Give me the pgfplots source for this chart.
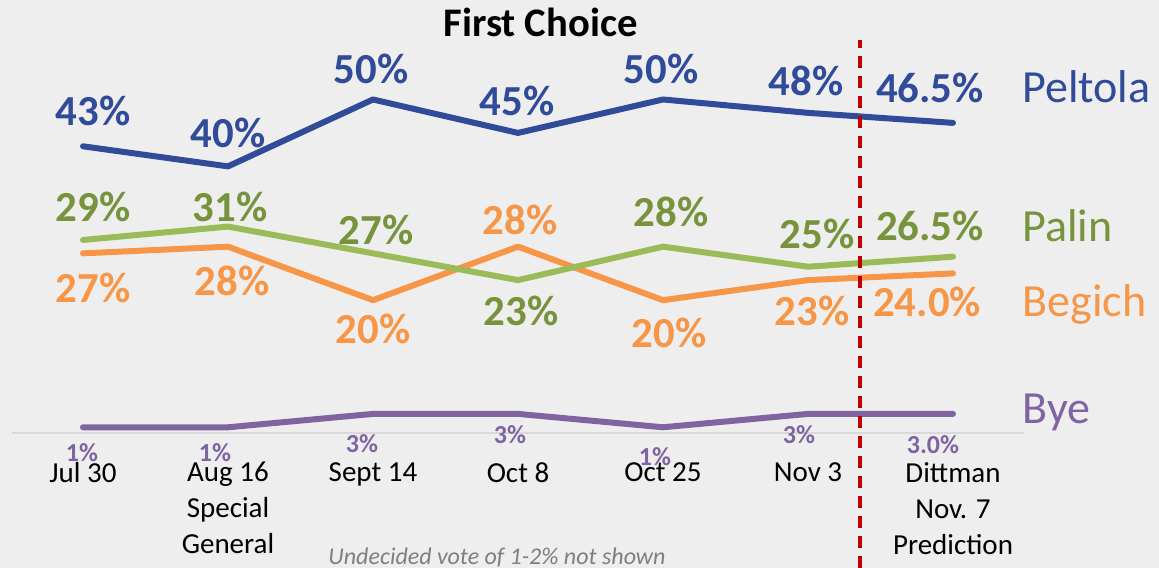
\documentclass[border=0pt]{standalone}
\usepackage{fontspec}
\setmainfont{Carlito}
\usepackage{pgfplots}
\pgfplotsset{compat=1.18}
\definecolor{bg}{HTML}{EEEEEE}
\definecolor{pel}{HTML}{2F4B99}
\definecolor{pal}{HTML}{9BBB59}
\definecolor{palt}{HTML}{77933C}
\definecolor{beg}{HTML}{F79646}
\definecolor{bye}{HTML}{8064A2}
\definecolor{redl}{HTML}{C00000}
\definecolor{axg}{HTML}{D9D9D9}
\definecolor{ftg}{HTML}{7F7F7F}
\newcommand\lab{\fontsize{21.4}{25}\selectfont\bfseries}
\newcommand\slab{\fontsize{13}{15}\selectfont\bfseries}
\newcommand\ser{\fontsize{23}{27}\selectfont}
\tikzset{lbl/.style={anchor=center, inner sep=0pt, text depth=0pt}}
\begin{document}
\begin{tikzpicture}
\begin{axis}[
 x=72.5pt, y=3.345pt,
 xmin=-0.5724, xmax=7.4207, ymin=-20.03, ymax=64.87,
 axis line style={draw=none},
 axis background/.style={fill=bg},
 xtick={0,...,6}, ytick=\empty,
 xticklabels={Jul 30, {Aug 16\\Special\\General}, Sept 14, Oct 8, Oct 25, Nov 3, {Dittman\\Nov. 7\\Prediction}},
 xticklabel style={align=center, anchor=north, inner sep=0pt, yshift=53pt, font=\fontsize{14.5}{18}\selectfont, text=black},
 major tick length=0pt,
 clip=false,
 every axis plot/.append style={line width=3pt, line cap=round, line join=round, mark=none},
]
\draw[axg, line width=1.2pt] (axis cs:-0.49,0.15) -- (axis cs:6.49,0.15);
\addplot[bye] coordinates {(0,1)(1,1)(2,3)(3,3)(4,1)(5,3)(6,3)};
\addplot[beg] coordinates {(0,27)(1,28)(2,20)(3,28)(4,20)(5,23)(6,24)};
\addplot[pal] coordinates {(0,29)(1,31)(2,27)(3,23)(4,28)(5,25)(6,26.5)};
\addplot[pel] coordinates {(0,43)(1,40)(2,50)(3,45)(4,50)(5,48)(6,46.5)};
\draw[redl, line width=2pt, dash pattern=on 6pt off 4pt] (axis cs:5.359,-20.03) -- (axis cs:5.359,58.9);
% title
\node[lbl, font=\fontsize{20.3}{24}\selectfont\bfseries] at (axis cs:3.155,61.6) {First Choice};
% Peltola labels
\node[lbl, pel, font=\lab] at (axis cs:0.069,48.3) {43\%};
\node[lbl, pel, font=\lab] at (axis cs:1.0,45.0) {40\%};
\node[lbl, pel, font=\lab] at (axis cs:1.986,54.6) {50\%};
\node[lbl, pel, font=\lab] at (axis cs:2.993,49.8) {45\%};
\node[lbl, pel, font=\lab] at (axis cs:3.986,54.6) {50\%};
\node[lbl, pel, font=\lab] at (axis cs:4.986,52.8) {48\%};
\node[lbl, pel, font=\lab] at (axis cs:5.841,51.7) {46.5\%};
% Palin labels
\node[lbl, palt, font=\lab] at (axis cs:0.069,33.9) {29\%};
\node[lbl, palt, font=\lab] at (axis cs:1.014,33.9) {31\%};
\node[lbl, palt, font=\lab] at (axis cs:2.021,30.6) {27\%};
\node[lbl, palt, font=\lab] at (axis cs:3.021,18.4) {23\%};
\node[lbl, palt, font=\lab] at (axis cs:4.055,33.2) {28\%};
\node[lbl, palt, font=\lab] at (axis cs:5.062,30.0) {25\%};
\node[lbl, palt, font=\lab] at (axis cs:5.841,31.1) {26.5\%};
% Begich labels
\node[lbl, beg, font=\lab] at (axis cs:0.069,21.8) {27\%};
\node[lbl, beg, font=\lab] at (axis cs:1.028,22.9) {28\%};
\node[lbl, beg, font=\lab] at (axis cs:2.0,15.8) {20\%};
\node[lbl, beg, font=\lab] at (axis cs:3.014,32.0) {28\%};
\node[lbl, beg, font=\lab] at (axis cs:4.041,15.1) {20\%};
\node[lbl, beg, font=\lab] at (axis cs:5.028,18.4) {23\%};
\node[lbl, beg, font=\lab] at (axis cs:5.821,19.7) {24.0\%};
% Bye labels
\node[lbl, bye, font=\slab] at (axis cs:-0.007,-2.7) {1\%};
\node[lbl, bye, font=\slab] at (axis cs:0.910,-2.7) {1\%};
\node[lbl, bye, font=\slab] at (axis cs:1.924,-1.42) {3\%};
\node[lbl, bye, font=\slab] at (axis cs:2.945,-0.15) {3\%};
\node[lbl, bye, font=\slab] at (axis cs:3.945,-3.3) {1\%};
\node[lbl, bye, font=\slab] at (axis cs:4.938,-0.15) {3\%};
\node[lbl, bye, font=\slab] at (axis cs:5.862,-1.57) {3.0\%};
% series names
\node[anchor=base west, inner sep=0pt, pel, font=\ser] at (axis cs:6.476,49.6) {Peltola};
\node[anchor=base west, inner sep=0pt, palt, font=\ser] at (axis cs:6.476,28.7) {Palin};
\node[anchor=base west, inner sep=0pt, beg, font=\ser] at (axis cs:6.476,17.5) {Begich};
\node[anchor=base west, inner sep=0pt, bye, font=\ser] at (axis cs:6.476,1.64) {Bye};
% footnote
\node[lbl, ftg, font=\fontsize{12}{14}\selectfont\itshape] at (axis cs:2.855,-18.24) {Undecided vote of 1-2\% not shown};
\end{axis}
\pgfresetboundingbox
\path[use as bounding box] (current axis.south west) rectangle (current axis.north east);
\end{tikzpicture}
\end{document}
